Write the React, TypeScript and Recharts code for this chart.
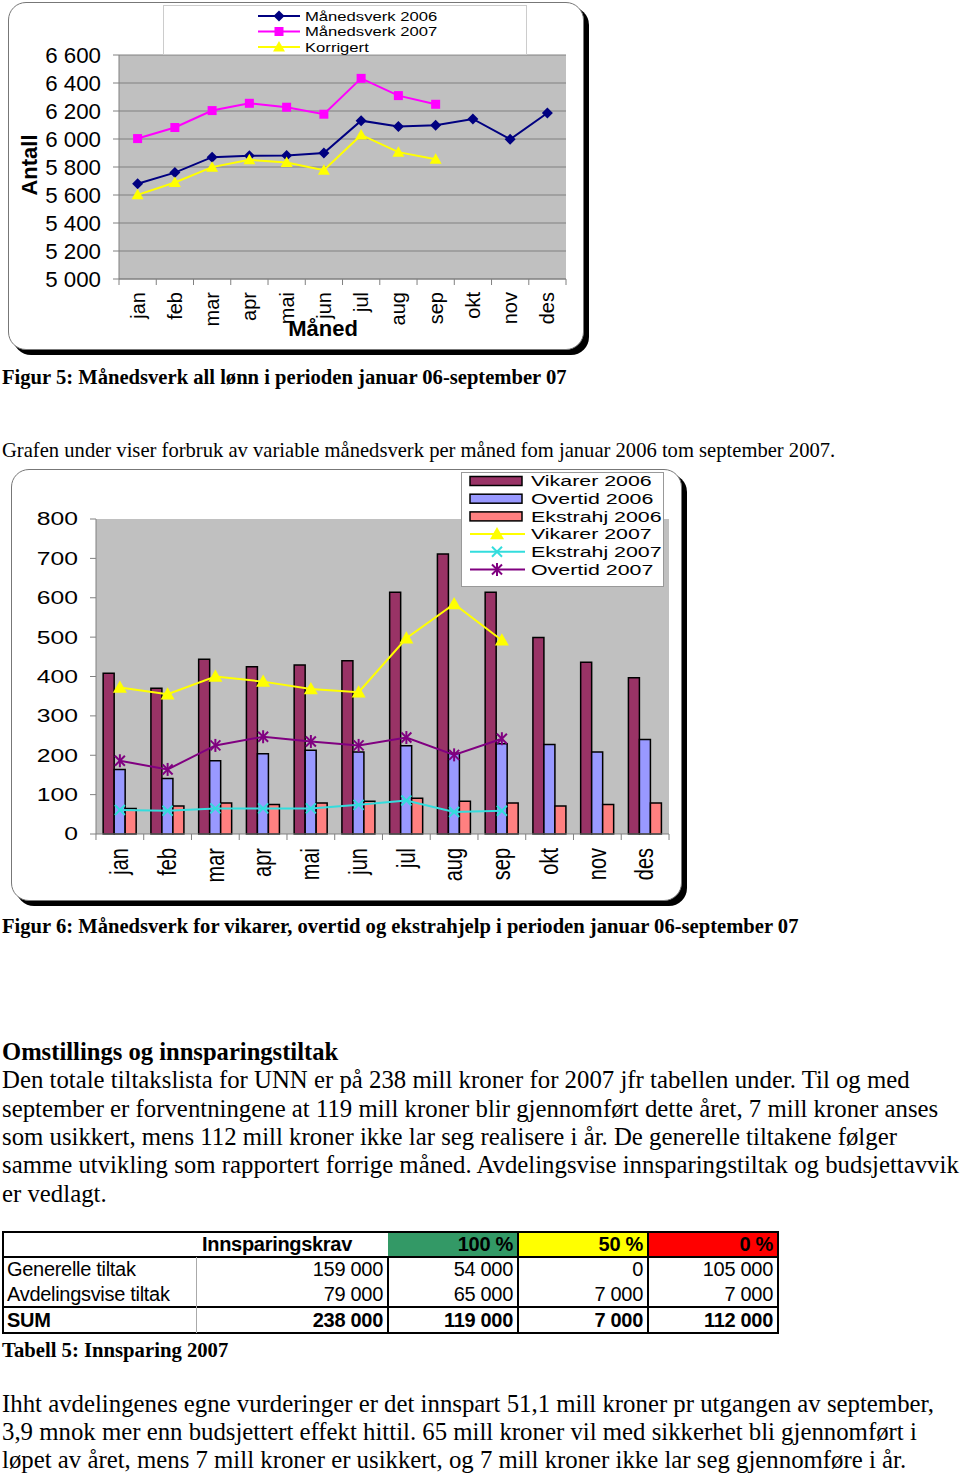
import React from 'react'
import { LineChart, Line, XAxis, YAxis, CartesianGrid, ComposedChart, Bar } from 'recharts'

const months = ['jan', 'feb', 'mar', 'apr', 'mai', 'jun', 'jul', 'aug', 'sep', 'okt', 'nov', 'des']

// Figur 5
const mv2006 = [5680, 5760, 5870, 5880, 5882, 5900, 6131, 6089, 6098, 6143, 5998, 6186]
const mv2007 = [6003, 6082, 6203, 6255, 6227, 6177, 6433, 6310, 6248, null, null, null]
const korrigert = [5601, 5689, 5799, 5851, 5832, 5777, 6029, 5906, 5856, null, null, null]
const yTicks1 = [5000, 5200, 5400, 5600, 5800, 6000, 6200, 6400, 6600]

// Figur 6
const vikarer2006 = [408, 370, 444, 425, 429, 440, 614, 711, 614, 499, 436, 397]
const overtid2006 = [164, 141, 186, 204, 213, 208, 224, 205, 229, 227, 208, 240]
const ekstrahj2006 = [65, 71, 79, 75, 79, 83, 91, 83, 79, 71, 75, 79]
const vikarer2007 = [372, 355, 400, 387, 368, 360, 497, 584, 492, null, null, null]
const ekstrahj2007 = [61, 59, 65, 65, 65, 74, 85, 56, 59, null, null, null]
const overtid2007 = [186, 164, 225, 247, 235, 225, 245, 201, 242, null, null, null]
const yTicks2 = [0, 100, 200, 300, 400, 500, 600, 700, 800]

// Tabell 5
const tableHead = ['', 'Innsparingskrav', '100 %', '50 %', '0 %']
const tableRows = [
  ['Generelle tiltak', '159 000', '54 000', '0', '105 000'],
  ['Avdelingsvise tiltak', '79 000', '65 000', '7 000', '7 000'],
]
const tableSum = ['SUM', '238 000', '119 000', '7 000', '112 000']

const lineData = months.map((m, i) => ({ month: m, mv2006: mv2006[i], mv2007: mv2007[i], korrigert: korrigert[i] }))
const barData = months.map((m, i) => ({
  month: m,
  vikarer2006: vikarer2006[i],
  overtid2006: overtid2006[i],
  ekstrahj2006: ekstrahj2006[i],
  vikarer2007: vikarer2007[i],
  ekstrahj2007: ekstrahj2007[i],
  overtid2007: overtid2007[i],
}))

const sans = 'Liberation Sans, Arial, sans-serif'
const serif = 'Liberation Serif, Times New Roman, serif'
const fmt = (v: number) => String(v).replace(/\B(?=(\d{3})+(?!\d))/g, ' ')

// marker shapes
const diamondPath = (x: number, y: number, r: number) => `M${x},${y - r}L${x + r},${y}L${x},${y + r}L${x - r},${y}Z`
const trianglePath = (x: number, y: number, r: number) => `M${x},${y - r}L${x + r},${y + r * 0.75}L${x - r},${y + r * 0.75}Z`

const Marker = ({ kind, x, y, color }: { kind: string; x: number; y: number; color: string }) => {
  if (kind === 'diamond') return <path d={diamondPath(x, y, 5.5)} fill={color} />
  if (kind === 'square') return <rect x={x - 4.5} y={y - 4.5} width={9} height={9} fill={color} />
  if (kind === 'triangle') return <path d={trianglePath(x, y, 6)} fill={color} />
  if (kind === 'triangle2') return <path d={trianglePath(x, y, 7)} fill={color} />
  if (kind === 'cross')
    return (
      <g stroke={color} strokeWidth={2}>
        <line x1={x - 5} y1={y - 5} x2={x + 5} y2={y + 5} />
        <line x1={x - 5} y1={y + 5} x2={x + 5} y2={y - 5} />
      </g>
    )
  return (
    <g stroke={color} strokeWidth={2}>
      <line x1={x - 5} y1={y - 5} x2={x + 5} y2={y + 5} />
      <line x1={x - 5} y1={y + 5} x2={x + 5} y2={y - 5} />
      <line x1={x} y1={y - 6.5} x2={x} y2={y + 6.5} />
    </g>
  )
}

const dot = (kind: string, color: string) => (p: any) => {
  const k = `${kind}-${p.index}`
  if (p.cx == null || p.cy == null || p.value == null) return <g key={k} />
  return (
    <g key={k}>
      <Marker kind={kind} x={p.cx} y={p.cy} color={color} />
    </g>
  )
}

const monthTick = (half: number, font: number, gap: number, sx: number) => (p: any) => {
  const { x, y, index, payload } = p
  return (
    <g>
      <line x1={x - half} y1={y} x2={x - half} y2={y + 6} stroke="#808080" />
      {index === 11 && <line x1={x + half} y1={y} x2={x + half} y2={y + 6} stroke="#808080" />}
      <text
        transform={`translate(${x},${y + gap}) scale(${sx},1) rotate(-90)`}
        textAnchor="end"
        dominantBaseline="central"
        fontSize={font}
        fontFamily={sans}
        fill="#000"
      >
        {payload.value}
      </text>
    </g>
  )
}

const yTick = (font: number, sx: number, thousands: boolean) => (p: any) => (
  <text
    transform={`translate(${p.x},${p.y}) scale(${sx},1)`}
    textAnchor="end"
    dominantBaseline="central"
    fontSize={font}
    fontFamily={sans}
    fill="#000"
  >
    {thousands ? fmt(p.payload.value) : p.payload.value}
  </text>
)

const Frame = ({ left, top, width, height, children }: any) => (
  <div style={{ position: 'absolute', left, top, width, height }}>
    <div
      style={{
        position: 'absolute',
        inset: 0,
        border: '1px solid #777',
        borderRadius: 18,
        boxShadow: '5px 5px 0 #000',
        background: '#fff',
        boxSizing: 'border-box',
      }}
    />
    {children}
  </div>
)

const Txt = ({ x, base, size, bold, sx = 1, family = serif, children }: any) => (
  <div
    style={{
      position: 'absolute',
      left: x,
      top: base - size * 0.84,
      fontSize: size,
      lineHeight: `${size}px`,
      fontWeight: bold ? 'bold' : 'normal',
      fontFamily: family,
      whiteSpace: 'nowrap',
      transform: `scaleX(${sx})`,
      transformOrigin: 'left',
    }}
  >
    {children}
  </div>
)

const legend1 = [
  { name: 'Månedsverk 2006', color: '#000080', kind: 'diamond' },
  { name: 'Månedsverk 2007', color: '#FF00FF', kind: 'square' },
  { name: 'Korrigert', color: '#FFFF00', kind: 'triangle' },
]

const legend2 = [
  { name: 'Vikarer 2006', color: '#993366', kind: 'bar' },
  { name: 'Overtid 2006', color: '#9999FF', kind: 'bar' },
  { name: 'Ekstrahj 2006', color: '#FF8080', kind: 'bar' },
  { name: 'Vikarer 2007', color: '#FFFF00', kind: 'triangle2' },
  { name: 'Ekstrahj 2007', color: '#33DDDD', kind: 'cross' },
  { name: 'Overtid 2007', color: '#800080', kind: 'star' },
]

const colX = [3, 196, 388, 518, 648, 778]
const rowY = [1232, 1257, 1282, 1307, 1333]
const headBg = ['#fff', '#fff', '#339966', '#FFFF00', '#FF0000']

const Cell = ({ c, r, text, bold, bg }: any) => (
  <div
    style={{
      position: 'absolute',
      left: colX[c],
      top: rowY[r],
      width: colX[c + 1] - colX[c],
      height: rowY[r + 1] - rowY[r],
      background: bg,
      boxSizing: 'border-box',
      padding: c === 0 ? '0 0 0 4px' : c === 1 && r === 0 ? '0 0 0 6px' : '0 5px 0 0',
      textAlign: c === 0 || (c === 1 && r === 0) ? 'left' : 'right',
      fontFamily: sans,
      fontSize: 20,
      lineHeight: `${rowY[r + 1] - rowY[r]}px`,
      fontWeight: bold ? 'bold' : 'normal',
      whiteSpace: 'nowrap',
      letterSpacing: -0.3,
    }}
  >
    {text}
  </div>
)

const HLine = ({ y, x1, x2, w, color = '#000' }: any) => (
  <div style={{ position: 'absolute', left: x1, top: y - w / 2, width: x2 - x1, height: w, background: color }} />
)
const VLine = ({ x, y1, y2, w, color = '#000' }: any) => (
  <div style={{ position: 'absolute', left: x - w / 2, top: y1, width: w, height: y2 - y1, background: color }} />
)

export default function App() {
  return (
    <div style={{ position: 'absolute', left: 0, top: 0, width: 960, height: 1474, background: '#fff', fontFamily: serif }}>
      {/* Figur 5 */}
      <Frame left={8} top={2} width={576} height={348}>
        <div style={{ position: 'absolute', left: 0, top: 0 }}>
          <LineChart width={576} height={348} data={lineData} margin={{ top: 53, right: 18, left: 31, bottom: 0 }}>
            <CartesianGrid vertical={false} fill="#C0C0C0" fillOpacity={1} stroke="#808080" />
            <XAxis
              dataKey="month"
              padding={{ left: 18.6, right: 18.6 }}
              height={71}
              interval={0}
              tickSize={0}
              tickMargin={0}
              tickLine={false}
              axisLine={{ stroke: '#808080' }}
              tick={monthTick(18.6, 20, 13, 1)}
            />
            <YAxis
              domain={[5000, 6600]}
              ticks={yTicks1}
              interval={0}
              width={80}
              tickSize={6}
              tickMargin={12}
              axisLine={{ stroke: '#808080' }}
              tickLine={{ stroke: '#808080' }}
              tick={yTick(22.3, 1, true)}
            />
            <Line dataKey="mv2006" stroke="#000080" strokeWidth={2} dot={dot('diamond', '#000080')} isAnimationActive={false} />
            <Line dataKey="mv2007" stroke="#FF00FF" strokeWidth={2} dot={dot('square', '#FF00FF')} isAnimationActive={false} />
            <Line dataKey="korrigert" stroke="#FFFF00" strokeWidth={2} dot={dot('triangle', '#FFFF00')} isAnimationActive={false} />
          </LineChart>
        </div>
        <div
          style={{
            position: 'absolute',
            left: 22,
            top: 163,
            transform: 'translate(-50%,-50%) rotate(-90deg)',
            fontFamily: sans,
            fontWeight: 'bold',
            fontSize: 22,
            whiteSpace: 'nowrap',
          }}
        >
          Antall
        </div>
        <div
          style={{
            position: 'absolute',
            left: 315,
            top: 327,
            transform: 'translate(-50%,-50%)',
            fontFamily: sans,
            fontWeight: 'bold',
            fontSize: 22,
            whiteSpace: 'nowrap',
          }}
        >
          Måned
        </div>
        <svg style={{ position: 'absolute', left: 155, top: 3 }} width={364} height={50}>
          <rect x={0.5} y={0.5} width={363} height={49} fill="#fff" stroke="#ccc" />
          {legend1.map((l, i) => {
            const y = 11 + i * 15.5
            return (
              <g key={l.name}>
                <line x1={95} y1={y} x2={137} y2={y} stroke={l.color} strokeWidth={2} />
                <Marker kind={l.kind} x={116} y={y} color={l.color} />
                <text
                  transform={`translate(142,${y}) scale(1.28,1)`}
                  dominantBaseline="central"
                  fontSize={13}
                  fontFamily={sans}
                  fill="#000"
                >
                  {l.name}
                </text>
              </g>
            )
          })}
        </svg>
      </Frame>

      <Txt x={2} base={384} size={20.6} bold>
        Figur 5: Månedsverk all lønn i perioden januar 06-september 07
      </Txt>
      <Txt x={2} base={457} size={20.6}>
        Grafen under viser forbruk av variable månedsverk per måned fom januar 2006 tom september 2007.
      </Txt>

      {/* Figur 6 */}
      <Frame left={11} top={469} width={671} height={432}>
        <div style={{ position: 'absolute', left: 0, top: 0 }}>
          <ComposedChart
            width={671}
            height={432}
            data={barData}
            margin={{ top: 50, right: 13, left: 15, bottom: 0 }}
            barCategoryGap="15%"
            barGap={0}
          >
            <CartesianGrid horizontal={false} vertical={false} fill="#C0C0C0" fillOpacity={1} />
            <XAxis
              dataKey="month"
              height={67}
              interval={0}
              tickSize={0}
              tickMargin={0}
              tickLine={false}
              axisLine={{ stroke: '#808080' }}
              tick={monthTick(23.9, 20, 14, 1.25)}
            />
            <YAxis
              domain={[0, 800]}
              ticks={yTicks2}
              interval={0}
              width={70}
              tickSize={6}
              tickMargin={12}
              axisLine={{ stroke: '#808080' }}
              tickLine={{ stroke: '#808080' }}
              tick={yTick(19, 1.3, false)}
            />
            <Bar dataKey="vikarer2006" fill="#993366" stroke="#000" strokeWidth={1.5} isAnimationActive={false} />
            <Bar dataKey="overtid2006" fill="#9999FF" stroke="#000" strokeWidth={1.5} isAnimationActive={false} />
            <Bar dataKey="ekstrahj2006" fill="#FF8080" stroke="#000" strokeWidth={1.5} isAnimationActive={false} />
            <Line dataKey="vikarer2007" stroke="#FFFF00" strokeWidth={2} dot={dot('triangle2', '#FFFF00')} isAnimationActive={false} />
            <Line dataKey="ekstrahj2007" stroke="#33DDDD" strokeWidth={2} dot={dot('cross', '#33DDDD')} isAnimationActive={false} />
            <Line dataKey="overtid2007" stroke="#800080" strokeWidth={2} dot={dot('star', '#800080')} isAnimationActive={false} />
          </ComposedChart>
        </div>
        <svg style={{ position: 'absolute', left: 450, top: 3 }} width={203} height={115}>
          <rect x={0.5} y={0.5} width={202} height={114} fill="#fff" stroke="#999" />
          {legend2.map((l, i) => {
            const y = 9 + i * 17.7
            return (
              <g key={l.name}>
                {l.kind === 'bar' ? (
                  <rect x={9} y={y - 4.5} width={52} height={9} fill={l.color} stroke="#000" strokeWidth={1.5} />
                ) : (
                  <>
                    <line x1={9} y1={y} x2={64} y2={y} stroke={l.color} strokeWidth={2} />
                    <Marker kind={l.kind} x={36} y={y} color={l.color} />
                  </>
                )}
                <text
                  transform={`translate(70,${y}) scale(1.38,1)`}
                  dominantBaseline="central"
                  fontSize={15.5}
                  fontFamily={sans}
                  fill="#000"
                >
                  {l.name}
                </text>
              </g>
            )
          })}
        </svg>
      </Frame>

      <Txt x={2} base={933} size={20.6} bold>
        Figur 6: Månedsverk for vikarer, overtid og ekstrahjelp i perioden januar 06-september 07
      </Txt>

      <Txt x={2} base={1061} size={24.6} bold>
        Omstillings og innsparingstiltak
      </Txt>
      <Txt x={2} base={1089} size={24.8}>
        Den totale tiltakslista for UNN er på 238 mill kroner for 2007 jfr tabellen under. Til og med
      </Txt>
      <Txt x={2} base={1118} size={24.8}>
        september er forventningene at 119 mill kroner blir gjennomført dette året, 7 mill kroner anses
      </Txt>
      <Txt x={2} base={1146} size={24.8}>
        som usikkert, mens 112 mill kroner ikke lar seg realisere i år. De generelle tiltakene følger
      </Txt>
      <Txt x={2} base={1174} size={24.8}>
        samme utvikling som rapportert forrige måned. Avdelingsvise innsparingstiltak og budsjettavvik
      </Txt>
      <Txt x={2} base={1203} size={24.8}>
        er vedlagt.
      </Txt>

      {/* Tabell 5 */}
      {tableHead.map((t, c) => (
        <Cell key={`h${c}`} c={c} r={0} text={t} bold bg={headBg[c]} />
      ))}
      {tableRows.map((row, r) => row.map((t, c) => <Cell key={`r${r}${c}`} c={c} r={r + 1} text={t} />))}
      {tableSum.map((t, c) => (
        <Cell key={`s${c}`} c={c} r={3} text={t} bold />
      ))}
      <HLine y={1232} x1={2} x2={779} w={2} />
      <HLine y={1257} x1={2} x2={779} w={1.5} />
      <HLine y={1307} x1={2} x2={779} w={2} />
      <HLine y={1333} x1={2} x2={779} w={2} />
      <VLine x={3} y1={1231} y2={1334} w={2} />
      <VLine x={778} y1={1231} y2={1334} w={2} />
      <VLine x={196} y1={1257} y2={1333} w={1} color="#aaa" />
      <VLine x={388} y1={1257} y2={1333} w={1.5} />
      <VLine x={518} y1={1232} y2={1333} w={1.5} />
      <VLine x={648} y1={1232} y2={1333} w={1.5} />

      <Txt x={2} base={1357} size={20.7} bold>
        Tabell 5: Innsparing 2007
      </Txt>

      <Txt x={2} base={1413} size={24.8}>
        Ihht avdelingenes egne vurderinger er det innspart 51,1 mill kroner pr utgangen av september,
      </Txt>
      <Txt x={2} base={1441} size={24.8}>
        3,9 mnok mer enn budsjettert effekt hittil. 65 mill kroner vil med sikkerhet bli gjennomført i
      </Txt>
      <Txt x={2} base={1469} size={24.8}>
        løpet av året, mens 7 mill kroner er usikkert, og 7 mill kroner ikke lar seg gjennomføre i år.
      </Txt>
    </div>
  )
}
